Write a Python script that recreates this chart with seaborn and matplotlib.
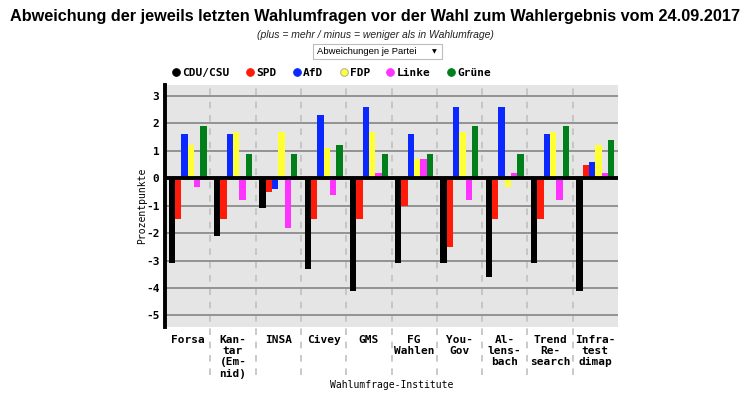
import matplotlib
matplotlib.use("Agg")
import matplotlib.pyplot as plt
import seaborn as sns
import pandas as pd
from matplotlib.lines import Line2D
import matplotlib.transforms as mtransforms

# ---- data ----
institutes = ["Forsa", "Kan-\ntar\n(Em-\nnid)", "INSA", "Civey", "GMS", "FG\nWahlen",
              "You-\nGov", "Al-\nlens-\nbach", "Trend\nRe-\nsearch", "Infra-\ntest\ndimap"]
parties = ["CDU/CSU", "SPD", "AfD", "FDP", "Linke", "Grüne"]
cdu = [-3.1, -2.1, -1.1, -3.3, -4.1, -3.1, -3.1, -3.6, -3.1, -4.1]
spd = [-1.5, -1.5, -0.5, -1.5, -1.5, -1.0, -2.5, -1.5, -1.5, 0.5]
afd = [1.6, 1.6, -0.4, 2.3, 2.6, 1.6, 2.6, 2.6, 1.6, 0.6]
fdp = [1.2, 1.7, 1.7, 1.1, 1.7, 0.7, 1.7, -0.3, 1.7, 1.2]
linke = [-0.3, -0.8, -1.8, -0.6, 0.2, 0.7, -0.8, 0.2, -0.8, 0.2]
gruene = [1.9, 0.9, 0.9, 1.2, 0.9, 0.9, 1.9, 0.9, 1.9, 1.4]
colors = ["#000000", "#ff1a0a", "#0a28ff", "#ffff33", "#ff33ff", "#007f1a"]

series = [cdu, spd, afd, fdp, linke, gruene]
rows = []
for p, vals in zip(parties, series):
    for inst, v in zip(institutes, vals):
        rows.append({"Institut": inst, "Partei": p, "Wert": v})
df = pd.DataFrame(rows)

sns.set_theme(style="white")
plt.rcParams["text.color"] = "black"
plt.rcParams["axes.labelcolor"] = "black"
plt.rcParams["xtick.color"] = "black"
plt.rcParams["ytick.color"] = "black"
mono = "DejaVu Sans Mono"
sans = "Liberation Sans"

fig = plt.figure(figsize=(7.5, 3.98), dpi=100)
ax = fig.add_axes([165 / 750, 1 - 326.7 / 398, (618 - 165) / 750, (326.7 - 85) / 398])
ax.set_facecolor("#e5e5e5")

sns.barplot(data=df, x="Institut", y="Wert", hue="Partei", order=institutes,
            hue_order=parties, palette=colors, width=0.84, dodge=True,
            saturation=1, errorbar=None, legend=False, ax=ax, zorder=3,
            linewidth=0)

ax.set_xlim(-0.5, len(institutes) - 0.5)
ax.set_ylim(-5.41, 3.40)
yt = [3, 2, 1, 0, -1, -2, -3, -4, -5]
ax.set_yticks(yt)
ax.set_yticklabels([str(v) if v >= 0 else "-" + str(-v) for v in yt],
                   fontfamily=mono, fontweight="bold", fontsize=8, color="black")
for v in yt:
    if v != 0:
        ax.axhline(v, color="#8c8c8c", lw=1.3, zorder=1)
ax.axhline(0, color="black", lw=2.8, zorder=5)

trans = mtransforms.blended_transform_factory(ax.transData, ax.transAxes)
for i in range(len(institutes) - 1):
    ax.plot([i + 0.5, i + 0.5], [-0.2, 1], transform=trans, color="#c0c0c0",
            lw=1.2, ls=(0, (4, 4)), clip_on=False, zorder=0.5)

ax.set_xticks(range(len(institutes)))
ax.set_xticklabels(institutes, fontfamily=mono, fontweight="bold", fontsize=8,
                   linespacing=1.15, va="top", ha="center", color="black")
ax.tick_params(axis="both", length=0, pad=4)
ax.tick_params(axis="x", pad=6)

for s in ["top", "right", "bottom"]:
    ax.spines[s].set_visible(False)
ax.spines["left"].set_color("black")
ax.spines["left"].set_linewidth(2.8)
ax.spines["left"].set_zorder(6)

ax.set_xlabel("Wahlumfrage-Institute", fontfamily=mono, fontsize=7, labelpad=1, color="black")
ax.set_ylabel("Prozentpunkte", fontfamily=mono, fontsize=7, labelpad=-1, color="black")

# titles
fig.text(0.5, 1 - 17 / 398,
         "Abweichung der jeweils letzten Wahlumfragen vor der Wahl zum Wahlergebnis vom 24.09.2017",
         ha="center", va="center", fontfamily=sans, fontweight="bold", fontsize=11.7,
         color="black")
fig.text(0.5, 1 - 35 / 398, "(plus = mehr / minus = weniger als in Wahlumfrage)",
         ha="center", va="center", fontfamily=sans, fontstyle="italic", fontsize=7.5,
         color="#222222")
# dropdown
fig.text(317 / 750, 1 - 51.5 / 398, "Abweichungen je Partei", ha="left", va="center",
         fontfamily=sans, fontsize=6.8, color="black")
fig.text(434 / 750, 1 - 51.5 / 398, "▼", ha="center", va="center",
         fontfamily="DejaVu Sans", fontsize=4.5, color="black")
fig.patches.append(plt.Rectangle((313 / 750, 1 - 58.5 / 398), 129 / 750, 14 / 398,
                                 transform=fig.transFigure, fill=False,
                                 edgecolor="#bdbdbd", lw=0.8))

# legend
handles = [Line2D([], [], marker="o", ls="", markersize=5.5, markerfacecolor=c,
                  markeredgecolor=("#aaaaaa" if c == "#ffff33" else c), markeredgewidth=0.7)
           for c in colors]
leg = fig.legend(handles, parties, loc="center left", bbox_to_anchor=(168 / 750, 1 - 73 / 398),
                 ncol=6, frameon=False, handlelength=0.6, handletextpad=0.3,
                 columnspacing=1.5, borderaxespad=0,
                 prop={"family": mono, "weight": "bold", "size": 8})
for t in leg.get_texts():
    t.set_color("black")

fig.savefig("out.png", dpi=100)
